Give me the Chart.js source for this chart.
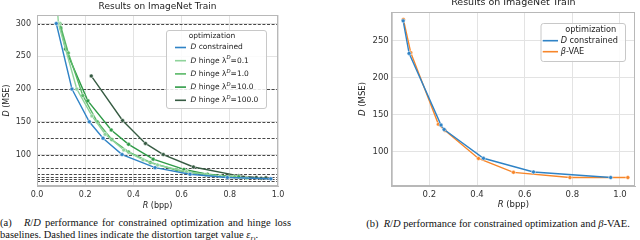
<!DOCTYPE html>
<html>
<head>
<meta charset="utf-8">
<script src="https://cdn.jsdelivr.net/npm/chart.js@4"></script>
<style>
  html, body { margin: 0; padding: 0; background: #fff; width: 640px; height: 240px; overflow: hidden; }
  .box { position: absolute; top: 0; width: 320px; height: 212px; }
  #boxA { left: 0; }
  #boxB { left: 320px; }
  .cap { position: absolute; font-family: "Liberation Serif", serif; font-size: 10.5px; color: #111; line-height: 12px; }
  #capA { left: 0; top: 217px; width: 291px; text-align: justify; text-align-last: justify; }
  #capA2 { left: 0; top: 229px; width: 300px; }
  #capB { left: 350px; top: 218px; width: 296px; text-align: center; }
  i { font-style: italic; }
</style>
</head>
<body>
<div class="box" id="boxA"><canvas id="chartA" width="320" height="212"></canvas></div>
<div class="box" id="boxB"><canvas id="chartB" width="320" height="212"></canvas></div>
<div class="cap" id="capA">(a)&nbsp;&nbsp; <i>R</i>/<i>D</i> performance for constrained optimization and hinge loss</div>
<div class="cap" id="capA2">baselines. Dashed lines indicate the distortion target value <i>ε<sub style="font-size:7px">D</sub></i>.</div>
<div class="cap" id="capB">(b) &nbsp;<i>R</i>/<i>D</i> performance for constrained optimization and <i>β</i>-VAE.</div>
<script>
/* ===== DATA ===== */
// (a) hinge loss baselines vs constrained
const conR = [0.08, 0.145, 0.217, 0.274, 0.353, 0.49, 0.635, 0.79, 0.97];
const conD = [300, 200, 150, 125, 100, 80, 70, 65, 63];
const h01R = [0.082, 0.089, 0.165, 0.228, 0.283, 0.36, 0.44, 0.5, 0.62, 0.76, 0.87];
const h01D = [335, 300, 200, 159, 131, 107, 92, 84, 74, 67, 64];
const h1R = [0.095, 0.13, 0.19, 0.25, 0.31, 0.38, 0.47, 0.58, 0.7, 0.82];
const h1D = [300, 255, 190, 150, 123, 104, 88, 76, 69, 66];
const h10R = [0.099, 0.118, 0.211, 0.308, 0.38, 0.482, 0.61, 0.707, 0.837];
const h10D = [293, 261, 182, 137.5, 115.6, 93, 77.3, 70, 66];
const h100R = [0.225, 0.355, 0.45, 0.524, 0.649, 0.837, 0.91, 0.93, 0.95];
const h100D = [220, 152, 117, 100, 81, 67.5, 65, 64, 64.5];
const targets = [300, 200, 150, 125, 100, 80, 70, 65, 62, 60];
const xTicksA = [0, 0.2, 0.4, 0.6, 0.8, 1.0];
const yTicksA = [100, 150, 200, 250, 300];

// (b) beta-VAE vs constrained
const bConR = [0.09, 0.115, 0.249, 0.262, 0.427, 0.637, 0.961];
const bConD = [277, 233, 136, 130, 91, 72.5, 65];
const vaeR = [0.091, 0.122, 0.238, 0.266, 0.406, 0.553, 0.79, 1.033];
const vaeD = [279, 234, 137, 128.5, 90.8, 72, 65, 65];
const xTicksB = [0.2, 0.4, 0.6, 0.8, 1.0];
const yTicksB = [100, 150, 200, 250];

const legendA = [
  [['D', 'i'], [' constrained', '']],
  [['D', 'i'], [' hinge λ', ''], ['D', 'sup'], ['=0.1', '']],
  [['D', 'i'], [' hinge λ', ''], ['D', 'sup'], ['=1.0', '']],
  [['D', 'i'], [' hinge λ', ''], ['D', 'sup'], ['=10.0', '']],
  [['D', 'i'], [' hinge λ', ''], ['D', 'sup'], ['=100.0', '']]
];
const legendB = [
  [['D', 'i'], [' constrained', '']],
  [['β', 'i'], ['-VAE', '']]
];

const BLUE = '#2f83c6', ORANGE = '#f7862a';
const GREENS = ['#8fd39b', '#58b866', '#2f9b47', '#365b42'];

/* ===== HELPERS ===== */
function pts(xs, ys) { return xs.map((x, i) => ({ x: x, y: ys[i] })); }

function fontFor(st, size) {
  if (st === 'sup') return `italic ${size * 0.72}px "DejaVu Sans"`;
  return `${st === 'i' ? 'italic ' : ''}${size}px "DejaVu Sans"`;
}

function drawRich(ctx, parts, x, y, size, align) {
  let w = 0;
  parts.forEach(p => { ctx.font = fontFor(p[1], size); w += ctx.measureText(p[0]).width; });
  let cx = align === 'center' ? x - w / 2 : x;
  ctx.textAlign = 'left';
  ctx.textBaseline = 'middle';
  parts.forEach(p => {
    ctx.font = fontFor(p[1], size);
    const dy = p[1] === 'sup' ? -size * 0.35 : 0;
    ctx.fillText(p[0], cx, y + dy);
    cx += ctx.measureText(p[0]).width;
  });
}

function ds(label, xs, ys, color) {
  return {
    label: label,
    data: pts(xs, ys),
    borderColor: color,
    backgroundColor: color,
    borderWidth: 1.4,
    pointRadius: 2,
    pointBorderColor: '#fff',
    pointBorderWidth: 0.5,
    pointBackgroundColor: color,
    tension: 0,
    clip: 0
  };
}

/* ===== PLUGINS ===== */
const targetLinesPlugin = {
  id: 'targetLines',
  beforeDatasetsDraw(chart, args, opts) {
    if (!opts.values) return;
    const y = chart.scales.y, a = chart.chartArea, ctx = chart.ctx;
    ctx.save();
    ctx.strokeStyle = '#333';
    ctx.lineWidth = 0.9;
    ctx.setLineDash([3, 1.6]);
    opts.values.forEach(v => {
      const py = Math.round(y.getPixelForValue(v)) + 0.5;
      ctx.beginPath();
      ctx.moveTo(a.left, py);
      ctx.lineTo(a.right, py);
      ctx.stroke();
    });
    ctx.restore();
  }
};

const decorPlugin = {
  id: 'decor',
  afterDraw(chart, args, o) {
    const ctx = chart.ctx, a = chart.chartArea;
    ctx.save();
    ctx.fillStyle = '#222';
    // title
    ctx.font = `${o.titleSize}px "DejaVu Sans"`;
    ctx.textAlign = 'center';
    ctx.textBaseline = 'middle';
    ctx.fillText('Results on ImageNet Train', (a.left + a.right) / 2, o.titleY);
    // axis titles
    drawRich(ctx, [['R', 'i'], [' (bpp)', '']], (a.left + a.right) / 2, o.xTitleY, o.axisSize, 'center');
    ctx.save();
    ctx.translate(o.yTitleX, (a.top + a.bottom) / 2);
    ctx.rotate(-Math.PI / 2);
    drawRich(ctx, [['D', 'i'], [' (MSE)', '']], 0, 0, o.axisSize, 'center');
    ctx.restore();

    // legend
    const L = o.legend;
    ctx.fillStyle = 'rgba(255,255,255,0.85)';
    ctx.strokeStyle = '#c8c8c8';
    ctx.lineWidth = 1;
    ctx.beginPath();
    ctx.roundRect(L.x + 0.5, L.y + 0.5, L.w, L.h, 2.5);
    ctx.fill();
    ctx.stroke();
    ctx.fillStyle = '#222';
    ctx.font = `${L.size}px "DejaVu Sans"`;
    ctx.textAlign = 'center';
    ctx.fillText('optimization', L.titleX, L.y + L.titleDy);
    L.items.forEach((parts, i) => {
      const yy = L.y + L.firstDy + i * L.step;
      ctx.strokeStyle = chart.data.datasets[i].borderColor;
      ctx.lineWidth = 1.6;
      ctx.beginPath();
      ctx.moveTo(L.lineX0, yy);
      ctx.lineTo(L.lineX1, yy);
      ctx.stroke();
      ctx.fillStyle = '#222';
      drawRich(ctx, parts, L.textX, yy, L.size, 'left');
    });
    ctx.restore();
  }
};

Chart.register(targetLinesPlugin, decorPlugin);

/* ===== CHARTS ===== */
function makeScales(xmin, xmax, ymin, ymax, xt, yt, yw, xh, fs, ypad) {
  const tick = { color: '#333', font: { family: 'DejaVu Sans', size: fs } };
  return {
    x: {
      type: 'linear', min: xmin, max: xmax,
      afterBuildTicks: s => { s.ticks = xt.map(v => ({ value: v })); },
      afterFit: s => { s.height = xh; },
      ticks: Object.assign({}, tick, { padding: 4, maxRotation: 0, callback: v => v.toFixed(1) }),
      grid: { color: '#e3e3e3', lineWidth: 1, drawTicks: false },
      border: { color: '#b8b8b8', width: 1 }
    },
    y: {
      type: 'linear', min: ymin, max: ymax,
      afterBuildTicks: s => { s.ticks = yt.map(v => ({ value: v })); },
      afterFit: s => { s.width = yw; },
      ticks: Object.assign({}, tick, { padding: ypad, callback: v => String(v) }),
      grid: { color: '#e3e3e3', lineWidth: 1, drawTicks: false },
      border: { color: '#b8b8b8', width: 1 }
    }
  };
}

const frame = {
  id: 'frame',
  afterDatasetsDraw(chart) {
    const a = chart.chartArea, ctx = chart.ctx;
    ctx.save();
    ctx.strokeStyle = '#b8b8b8';
    ctx.lineWidth = 1;
    ctx.strokeRect(a.left + 0.5, a.top + 0.5, a.right - a.left - 1, a.bottom - a.top - 1);
    ctx.restore();
  }
};

new Chart(document.getElementById('chartA'), {
  type: 'line',
  data: {
    datasets: [
      ds('D constrained', conR, conD, BLUE),
      ds('D hinge 0.1', h01R, h01D, GREENS[0]),
      ds('D hinge 1.0', h1R, h1D, GREENS[1]),
      ds('D hinge 10.0', h10R, h10D, GREENS[2]),
      ds('D hinge 100.0', h100R, h100D, GREENS[3])
    ]
  },
  options: {
    responsive: false,
    animation: false,
    layout: { padding: { left: 0, top: 15, right: 42, bottom: 0 } },
    scales: makeScales(0, 1.0, 52, 313, xTicksA, yTicksA, 37, 26, 8, 6),
    plugins: {
      legend: { display: false },
      tooltip: { enabled: false },
      targetLines: { values: targets },
      decor: {
        titleSize: 9, titleY: 7, axisSize: 8, xTitleY: 206, yTitleX: 7,
        legend: {
          x: 166, y: 30, w: 100, h: 78, size: 7.5,
          titleX: 212, titleDy: 6, firstDy: 17.5, step: 13.2,
          lineX0: 175, lineX1: 186, textX: 190.5, items: legendA
        }
      }
    }
  },
  plugins: [frame]
});

new Chart(document.getElementById('chartB'), {
  type: 'line',
  data: {
    datasets: [
      ds('D constrained', bConR, bConD, BLUE),
      ds('beta-VAE', vaeR, vaeD, ORANGE)
    ]
  },
  options: {
    responsive: false,
    animation: false,
    layout: { padding: { left: 0, top: 12, right: 5, bottom: 0 } },
    scales: makeScales(0.042, 1.063, 53.5, 289, xTicksB, yTicksB, 71.7, 26, 8.5, 3),
    plugins: {
      legend: { display: false },
      tooltip: { enabled: false },
      decor: {
        titleSize: 9.5, titleY: 3, axisSize: 8.5, xTitleY: 205, yTitleX: 43,
        legend: {
          x: 220.5, y: 23, w: 84.5, h: 38, size: 8.2,
          titleX: 270.7, titleDy: 6.5, firstDy: 17.7, step: 11,
          lineX0: 222.7, lineX1: 238, textX: 240.7, items: legendB
        }
      }
    }
  },
  plugins: [frame]
});
</script>
</body>
</html>
